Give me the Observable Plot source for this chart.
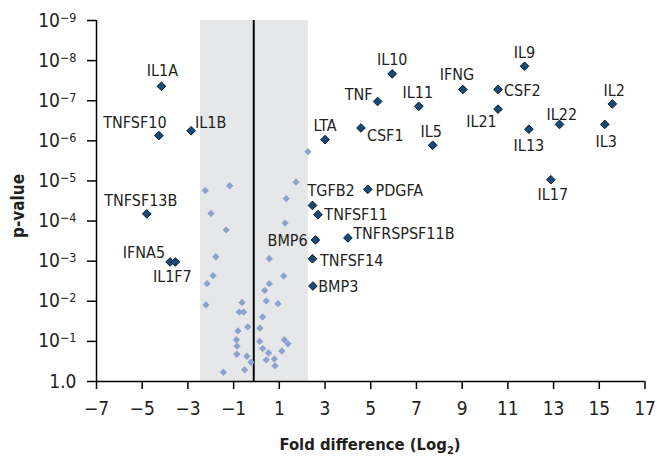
<!DOCTYPE html>
<html><head><meta charset="utf-8">
<script src="https://cdn.jsdelivr.net/npm/d3@7"></script>
<script src="https://cdn.jsdelivr.net/npm/@observablehq/plot@0.6"></script>
<style>
html,body{margin:0;padding:0;background:#fff;}
</style>
</head><body><div id="chart"></div>
<script>
// Labelled (significant) genes: log2 fold difference and -log10(p-value)
const genes = ["IL1A","TNFSF10","IL1B","TNFSF13B","IFNA5","IL1F7","LTA","TGFB2","TNFSF11","BMP6","TNFRSPSF11B","TNFSF14","BMP3","IL10","TNF","IL11","IFNG","CSF1","IL5","PDGFA","IL9","CSF2","IL21","IL2","IL22","IL13","IL3","IL17"];
const geneFold = [-4.16,-4.27,-2.86,-4.80,-3.78,-3.55,3.00,2.45,2.69,2.58,4.00,2.45,2.47,5.94,5.30,7.10,9.03,4.57,7.71,4.87,11.73,10.57,10.57,15.57,13.26,11.92,15.24,12.88];
const geneNegLogP = [7.36,6.13,6.25,4.18,2.98,2.98,6.03,4.39,4.16,3.53,3.58,3.06,2.38,7.67,6.98,6.86,7.28,6.32,5.89,4.79,7.86,7.28,6.79,6.92,6.41,6.29,6.41,5.03];

// Unlabelled (non-significant) genes
const otherFold = [2.25,1.73,1.30,1.25,0.56,1.19,0.56,0.36,0.43,0.94,0.27,0.15,0.14,0.27,0.53,0.43,0.78,0.81,1.11,1.22,1.38,
  -0.52,-0.24,-0.42,-1.45,-0.86,-0.85,-0.88,-0.81,-0.38,-0.75,-0.56,-0.63,-2.21,-2.16,-1.90,-1.78,-1.33,-1.99,-2.24,-1.17];
const otherNegLogP = [5.73,4.97,4.56,3.95,3.06,2.63,2.44,2.27,2.01,1.94,1.61,1.33,1.00,0.82,0.71,0.54,0.56,0.39,0.76,1.04,0.94,
  0.29,0.48,0.63,0.23,0.68,0.88,1.04,1.26,1.36,1.73,1.73,1.97,1.91,2.44,2.64,3.11,3.78,4.19,4.76,4.88];

// Shaded non-significant band and reference line
const bandFold = [-2.45, 2.27];
const centerFold = -0.12;

// Axis ticks
const xTicks = [-7,-5,-3,-1,1,3,5,7,9,11,13,15,17];
const yTicks = [0,1,2,3,4,5,6,7,8,9];

// Label placement: [textAnchor, dx, dy(baseline)]
const labelPlacement = {
  IL1A:["middle",1,-10.5], TNFSF10:["middle",-24,-8], IL1B:["start",4,-3],
  TNFSF13B:["middle",-6,-8], IFNA5:["end",-5,-4], IL1F7:["middle",-3,20.5],
  LTA:["middle",0,-9], TGFB2:["start",-5,-9.3], TNFSF11:["start",6.4,5.3],
  BMP6:["end",-7.8,6], TNFRSPSF11B:["start",5.4,1.3], TNFSF14:["start",7.6,7.7],
  BMP3:["start",5.3,5.7], IL10:["middle",0,-9.3], TNF:["end",-5,-1.5],
  IL11:["middle",-1,-8.4], IFNG:["middle",-6,-9.3], CSF1:["start",6,13.4],
  IL5:["middle",-1.5,-8.6], PDGFA:["start",7.7,6.7], IL9:["middle",0,-8.4],
  CSF2:["start",6,6.7], IL21:["middle",-16.6,18], IL2:["middle",2,-8.3],
  IL22:["middle",2.3,-4.7], IL13:["middle",0,21.7], IL3:["middle",1.5,22.6],
  IL17:["middle",2,20.7]
};

const FONT = '"DejaVu Sans Condensed", "DejaVu Sans", sans-serif';
const idx = genes.map((_, i) => i);
const oidx = otherFold.map((_, i) => i);

const labelMarks = genes.map((g, i) => {
  const [anchor, dx, dy] = labelPlacement[g];
  return Plot.text([i], {
    x: j => geneFold[j], y: j => geneNegLogP[j], text: j => genes[j],
    textAnchor: anchor, lineAnchor: "bottom", dx, dy,
    fontSize: 16, fill: "#231f20"
  });
});

const svg = Plot.plot({
  width: 657, height: 456,
  marginLeft: 96, marginRight: 12.5, marginTop: 20, marginBottom: 75,
  style: {fontFamily: FONT, fontSize: "19px", background: "#fff", color: "#231f20"},
  x: {domain: [-7, 17]},
  y: {domain: [0, 9]},
  marks: [
    Plot.rect([0], {x1: () => bandFold[0], x2: () => bandFold[1], y1: () => 0, y2: () => 9, fill: "#e6e7e9"}),
    Plot.ruleX([centerFold], {stroke: "#000", strokeWidth: 2, y1: 0, y2: 9}),
    Plot.axisX({ticks: xTicks, tickSize: 8, tickPadding: 12, label: null, fontSize: 19, strokeWidth: 1.5, stroke: "#000"}),
    Plot.axisY({ticks: yTicks, tickSize: 9, tickPadding: 11, label: null, fontSize: 19, strokeWidth: 1.5, stroke: "#000",
      tickFormat: d => d === 0 ? "1.0" : "10^" + d}),
    Plot.ruleX([-7], {stroke: "#000", strokeWidth: 1.5, y1: 0, y2: 9}),
    Plot.ruleY([0], {stroke: "#000", strokeWidth: 1.5, x1: -7, x2: 17}),
    Plot.dot(oidx, {x: i => otherFold[i], y: i => otherNegLogP[i], symbol: "diamond2", r: 3.3, fill: "#8aa3cf", stroke: "none"}),
    Plot.dot(idx, {x: i => geneFold[i], y: i => geneNegLogP[i], symbol: "diamond2", r: 3.9, fill: "#154a7b", stroke: "#0b1a2a", strokeWidth: 1}),
    ...labelMarks
  ]
});

const s = d3.select(svg);
// superscript exponents on y tick labels
s.selectAll('g[aria-label="y-axis tick label"] text').each(function() {
  const t = this.textContent;
  if (t.startsWith("10^")) {
    const e = t.slice(3);
    this.textContent = "10";
    d3.select(this).append("tspan").attr("dy", "-5").attr("font-size", "12.5px").text("\u2212" + e);
  }
});
// axis titles
const xt = s.append("text").attr("x", 370).attr("y", 450).attr("text-anchor", "middle")
  .attr("font-weight", "bold").attr("font-size", "16.5px").attr("fill", "#231f20");
xt.append("tspan").text("Fold difference (Log");
xt.append("tspan").attr("font-size", "11px").attr("dy", 4).text("2");
xt.append("tspan").attr("dy", -4).text(")");
s.append("text").attr("transform", "translate(23.5,206) rotate(-90)").attr("text-anchor", "middle")
  .attr("font-weight", "bold").attr("font-size", "17px").attr("fill", "#231f20").text("p-value");

document.getElementById("chart").appendChild(svg);
</script>
</body></html>
